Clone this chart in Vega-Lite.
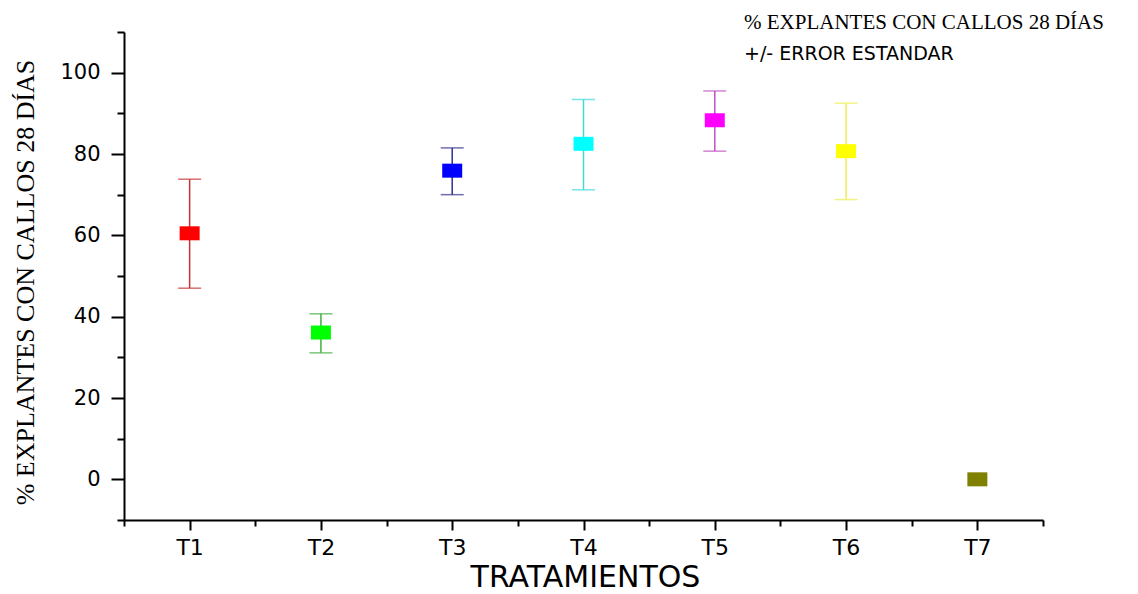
{
  "$schema": "https://vega.github.io/schema/vega-lite/v6.json",
  "autosize": {"type": "none"},
  "width": 919,
  "height": 488,
  "padding": {"left": 124, "top": 32, "right": 95, "bottom": 74},
  "background": "white",
  "title": {
    "text": "% EXPLANTES CON CALLOS 28 DÍAS",
    "subtitle": "+/- ERROR ESTANDAR",
    "anchor": "start",
    "frame": "group",
    "dx": 620,
    "offset": -43,
    "font": "Liberation Serif",
    "fontSize": 21,
    "fontWeight": "normal",
    "color": "black",
    "subtitleFont": "DejaVu Sans",
    "subtitleFontSize": 19,
    "subtitleColor": "black",
    "subtitlePadding": 12
  },
  "data": {
    "values": [
      {"t": 1, "name": "T1", "v": 60.5, "lo": 47.0, "hi": 73.8},
      {"t": 2, "name": "T2", "v": 36.1, "lo": 31.1, "hi": 40.7},
      {"t": 3, "name": "T3", "v": 75.9, "lo": 70.0, "hi": 81.5},
      {"t": 4, "name": "T4", "v": 82.5, "lo": 71.2, "hi": 93.4},
      {"t": 5, "name": "T5", "v": 88.3, "lo": 80.7, "hi": 95.5},
      {"t": 6, "name": "T6", "v": 80.7, "lo": 68.8, "hi": 92.5},
      {"t": 7, "name": "T7", "v": 0, "lo": null, "hi": null}
    ]
  },
  "encoding": {
    "x": {
      "field": "t",
      "type": "quantitative",
      "scale": {"domain": [0.5, 7.5], "nice": false, "zero": false},
      "axis": {
        "title": "TRATAMIENTOS",
        "titleFont": "DejaVu Sans",
        "titleFontSize": 30,
        "titleFontWeight": "normal",
        "titleColor": "black",
        "titleX": 461,
        "titleY": 66,
        "titleBaseline": "alphabetic",
        "titleAlign": "center",
        "values": [0.5, 1, 1.5, 2, 2.5, 3, 3.5, 4, 4.5, 5, 5.5, 6, 6.5, 7, 7.5],
        "labelExpr": "datum.value % 1 === 0 ? 'T' + datum.value : ''",
        "labelFont": "DejaVu Sans",
        "labelFontSize": 22,
        "labelColor": "black",
        "labelPadding": 7,
        "labelOverlap": false,
        "labelFlush": false,
        "tickSize": {"condition": {"test": "datum.value % 1 === 0", "value": 10}, "value": 6},
        "tickColor": "black",
        "tickWidth": 2,
        "domainColor": "black",
        "domainWidth": 2,
        "grid": false
      }
    }
  },
  "layer": [
    {
      "mark": {"type": "rule", "strokeWidth": 1.5},
      "encoding": {
        "y": {"field": "lo", "type": "quantitative"},
        "y2": {"field": "hi"},
        "color": {"field": "name", "type": "nominal", "legend": null,
          "scale": {"domain": ["T1", "T2", "T3", "T4", "T5", "T6", "T7"],
                    "range": ["#c83232", "#40b040", "#303090", "#40d8d8", "#c050c0", "#eeee50", "#808000"]}}
      }
    },
    {
      "mark": {"type": "tick", "orient": "horizontal", "size": 23, "thickness": 1.5},
      "encoding": {
        "y": {"field": "lo", "type": "quantitative"},
        "color": {"field": "name", "type": "nominal", "legend": null,
          "scale": {"domain": ["T1", "T2", "T3", "T4", "T5", "T6", "T7"],
                    "range": ["#c83232", "#40b040", "#303090", "#40d8d8", "#c050c0", "#eeee50", "#808000"]}}
      }
    },
    {
      "mark": {"type": "tick", "orient": "horizontal", "size": 23, "thickness": 1.5},
      "encoding": {
        "y": {"field": "hi", "type": "quantitative"},
        "color": {"field": "name", "type": "nominal", "legend": null,
          "scale": {"domain": ["T1", "T2", "T3", "T4", "T5", "T6", "T7"],
                    "range": ["#c83232", "#40b040", "#303090", "#40d8d8", "#c050c0", "#eeee50", "#808000"]}}
      }
    },
    {
      "mark": {"type": "point", "filled": true, "opacity": 1, "size": 400,
               "shape": "M-1,-0.7L1,-0.7L1,0.7L-1,0.7Z"},
      "encoding": {
        "y": {
          "field": "v",
          "type": "quantitative",
          "scale": {"domain": [-10, 110], "nice": false, "zero": false},
          "axis": {
            "title": "% EXPLANTES CON CALLOS 28 DÍAS",
            "titleFont": "Liberation Serif",
            "titleFontSize": 26,
            "titleFontWeight": "normal",
            "titleColor": "black",
            "titleX": -91,
            "titleY": 250,
            "titleAngle": 270,
            "titleBaseline": "alphabetic",
            "titleAlign": "center",
            "values": [-10, 0, 10, 20, 30, 40, 50, 60, 70, 80, 90, 100, 110],
            "labelExpr": "datum.value % 20 === 0 && datum.value >= 0 && datum.value <= 100 ? datum.label : ''",
            "labelFont": "DejaVu Sans",
            "labelFontSize": 21,
            "labelColor": "black",
            "labelPadding": 11,
            "labelOverlap": false,
            "labelFlush": false,
            "tickSize": {"condition": {"test": "datum.value % 20 === 0", "value": 13}, "value": 7},
            "tickColor": "black",
            "tickWidth": 2,
            "domainColor": "black",
            "domainWidth": 2,
            "grid": false
          }
        },
        "color": {"field": "name", "type": "nominal", "legend": null,
          "scale": {"domain": ["T1", "T2", "T3", "T4", "T5", "T6", "T7"],
                    "range": ["#ff0000", "#00ff00", "#0000ff", "#00ffff", "#ff00ff", "#ffff00", "#808000"]}}
      }
    }
  ],
  "resolve": {"scale": {"color": "independent"}},
  "config": {"view": {"stroke": null}}
}
